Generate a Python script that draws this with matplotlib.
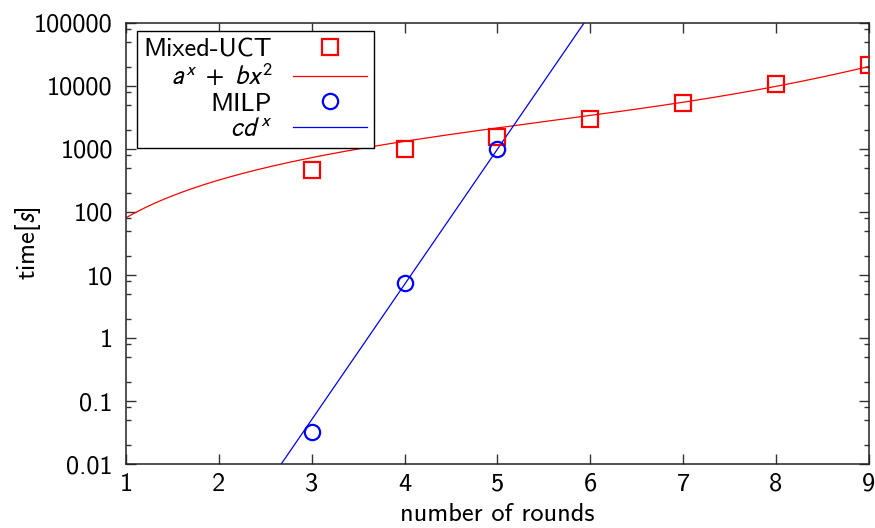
import matplotlib
matplotlib.use("Agg")
import matplotlib.pyplot as plt
import numpy as np
from matplotlib.ticker import FixedLocator, NullFormatter

plt.rcParams["font.family"] = ["cmss10", "DejaVu Sans"]
plt.rcParams["mathtext.fontset"] = "stixsans"
plt.rcParams["axes.unicode_minus"] = False

# measured points
rounds_uct = [3, 4, 5, 6, 7, 8, 9]
time_uct = [466, 985, 1560, 3000, 5370, 10700, 21500]
rounds_milp = [3, 4, 5]
time_milp = [0.032, 7.6, 1010]

# fit parameters
A, B = 2.885, 78.0        # a^x + b x^2
C, D = 1.9e-8, 139.0      # c d^x

xticks = [1, 2, 3, 4, 5, 6, 7, 8, 9]
yticks = [0.01, 0.1, 1, 10, 100, 1000, 10000, 100000]
ytick_labels = ["0.01", "0.1", "1", "10", "100", "1000", "10000", "100000"]

RED = "#ff0000"
BLUE = "#0000ff"

fig = plt.figure(figsize=(8.75, 5.28), dpi=100)
ax = fig.add_axes([0.144, 0.1206, 0.8488, 0.8364])

xs = np.linspace(1, 9, 400)
ax.plot(rounds_uct, time_uct, "s", ms=11, mfc="none", mec=RED, mew=1.6,
        label="Mixed-UCT", zorder=3)
ax.plot(xs, A ** xs + B * xs ** 2, "-", color=RED, lw=0.9, label=r"$a^x\ +\ bx^2$")
ax.plot(rounds_milp, time_milp, "o", ms=11, mfc="none", mec=BLUE, mew=1.6,
        label="MILP", zorder=3)
ax.plot(xs, C * D ** xs, "-", color=BLUE, lw=0.9, label=r"$cd^x$")

ax.set_yscale("log")
ax.set_xlim(1, 9)
ax.set_ylim(0.01, 100000)
ax.set_xticks(xticks)
ax.set_xticklabels([str(t) for t in xticks])
ax.set_yticks(yticks)
ax.set_yticklabels(ytick_labels)
minors = [m * 10.0 ** e for e in range(-2, 5) for m in (2, 5, 8)]
ax.yaxis.set_minor_locator(FixedLocator(minors))
ax.yaxis.set_minor_formatter(NullFormatter())

ax.tick_params(which="both", direction="in", top=True, right=True,
               labelsize=19, width=1.0, color="#333333")
ax.tick_params(which="major", length=7)
ax.tick_params(which="minor", length=3.5)
ax.tick_params(axis="x", which="major", pad=6)
ax.tick_params(axis="y", which="major", pad=9.5)
for s in ax.spines.values():
    s.set_linewidth(1.1)
    s.set_color("#222222")

ax.set_xlabel("number of rounds", fontsize=19, labelpad=5.5)
ax.set_ylabel(r"time[$s$]", fontsize=19)
ax.yaxis.set_label_coords(-0.112, 0.5)

leg = ax.legend(loc="upper left", bbox_to_anchor=(0.015, 0.981), borderaxespad=0,
                markerfirst=False, fontsize=19, handlelength=2.8, handletextpad=0.8,
                labelspacing=0.08, borderpad=0.25, fancybox=False, framealpha=1,
                edgecolor="black")
leg.get_frame().set_linewidth(1.0)

fig.savefig("out.png", dpi=100, facecolor="white")
